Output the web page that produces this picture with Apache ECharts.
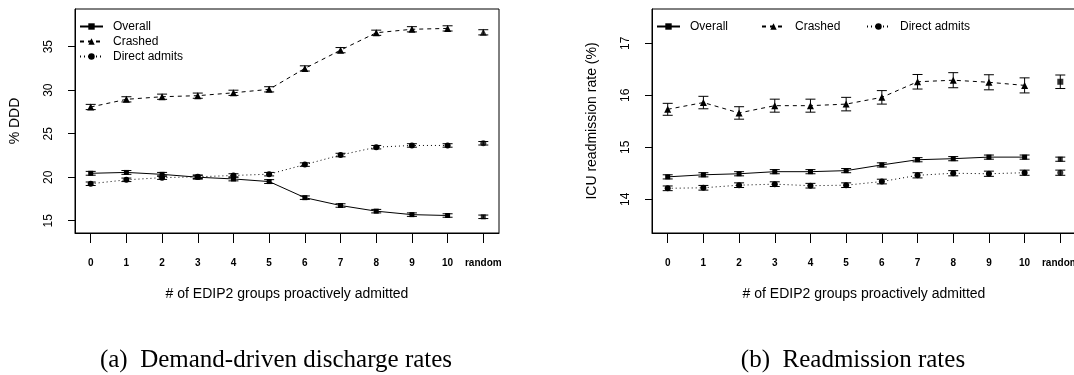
<!DOCTYPE html>
<html>
<head>
<meta charset="utf-8">
<script src="https://cdn.jsdelivr.net/npm/echarts@6/dist/echarts.min.js"></script>
<style>html,body{margin:0;padding:0;background:#fff}#c{width:1074px;height:375px}</style>
</head>
<body>
<div id="c"></div>
<script>
// ---- data ----
var xLabels = ['0','1','2','3','4','5','6','7','8','9','10','random'];
var xPos = [0,1,2,3,4,5,6,7,8,9,10,11];

// (a) Demand-driven discharge rates (% DDD)
var dddOverall   = [20.45, 20.55, 20.33, 20.00, 19.80, 19.50, 17.65, 16.75, 16.10, 15.70, 15.60, 15.45];
var dddCrashed   = [28.07, 28.95, 29.25, 29.37, 29.70, 30.10, 32.50, 34.60, 36.60, 37.00, 37.10, 36.65];
var dddDirect    = [19.25, 19.70, 19.95, 20.05, 20.20, 20.35, 21.45, 22.55, 23.45, 23.65, 23.65, 23.90];
var dddOverallErr = [0.22,0.22,0.22,0.22,0.22,0.22,0.2,0.2,0.2,0.2,0.2,0.2];
var dddCrashedErr = [0.3,0.3,0.3,0.3,0.3,0.3,0.3,0.3,0.3,0.3,0.3,0.3];
var dddDirectErr  = [0.2,0.2,0.2,0.2,0.2,0.2,0.2,0.2,0.2,0.2,0.2,0.2];
var dddTicks = [15,20,25,30,35];

// (b) ICU readmission rate (%)
var readOverall = [14.43, 14.47, 14.49, 14.53, 14.53, 14.55, 14.66, 14.76, 14.78, 14.81, 14.81, 14.77];
var readCrashed = [15.73, 15.86, 15.66, 15.80, 15.80, 15.83, 15.96, 16.26, 16.29, 16.25, 16.19, 16.26];
var readDirect  = [14.21, 14.22, 14.27, 14.29, 14.26, 14.27, 14.34, 14.46, 14.50, 14.49, 14.51, 14.51];
var readOverallErr = [0.04,0.04,0.04,0.04,0.04,0.04,0.04,0.04,0.04,0.04,0.04,0.04];
var readCrashedErr = [0.115,0.12,0.12,0.125,0.125,0.13,0.13,0.14,0.145,0.145,0.145,0.13];
var readDirectErr  = [0.045,0.045,0.045,0.045,0.045,0.045,0.045,0.05,0.05,0.05,0.05,0.05];
var readTicks = [14,15,16,17];

var seriesNames = ['Overall','Crashed','Direct admits'];

// ---- styles ----
var SANS = 'Liberation Sans, Arial, Helvetica, sans-serif';
var SERIF = 'Liberation Serif, Times New Roman, serif';
var sym = {'Overall':'rect','Crashed':'triangle','Direct admits':'circle'};
var symSize = {'Overall':5,'Crashed':7,'Direct admits':6};
var dash = {'Overall':'solid','Crashed':[4,4],'Direct admits':[1,3]};

function linePart(vals){ var d=[]; for(var i=0;i<11;i++) d.push([xPos[i], vals[i]]); return d; }
function randPart(vals){ return [[xPos[11], vals[11]]]; }
function errPart(vals, errs){ var d=[]; for(var i=0;i<vals.length;i++) d.push([xPos[i], vals[i]-errs[i], vals[i]+errs[i]]); return d; }

function errRender(params, api){
  var x = api.value(0), lo = api.value(1), hi = api.value(2);
  var a = api.coord([x, lo]), b = api.coord([x, hi]);
  var hw = 5;
  var st = {stroke:'#000', lineWidth:1};
  return {type:'group', children:[
    {type:'line', shape:{x1:a[0], y1:a[1], x2:b[0], y2:b[1]}, style:st},
    {type:'line', shape:{x1:a[0]-hw, y1:a[1], x2:a[0]+hw, y2:a[1]}, style:st},
    {type:'line', shape:{x1:b[0]-hw, y1:b[1], x2:b[0]+hw, y2:b[1]}, style:st}
  ]};
}

function buildSeries(gi, name, vals, errs, randSymbol){
  var out = [];
  out.push({
    type:'line', name:name, xAxisIndex:gi, yAxisIndex:gi,
    data: linePart(vals), symbol: sym[name], symbolSize: symSize[name],
    itemStyle:{color:'#000'}, lineStyle:{color:'#000', width:1, type:dash[name]},
    animation:false, z:3
  });
  out.push({
    type:'scatter', name:name, xAxisIndex:gi, yAxisIndex:gi,
    data: randPart(vals), symbol: randSymbol || sym[name], symbolSize: randSymbol ? 6 : symSize[name],
    itemStyle:{color:'#000'}, animation:false, z:3
  });
  out.push({
    type:'custom', name:name, xAxisIndex:gi, yAxisIndex:gi,
    data: errPart(vals, errs), renderItem: errRender,
    encode:{x:0, y:[1,2]}, animation:false, z:2, silent:true
  });
  return out;
}

var series = [].concat(
  buildSeries(0,'Overall', dddOverall, dddOverallErr),
  buildSeries(0,'Crashed', dddCrashed, dddCrashedErr),
  buildSeries(0,'Direct admits', dddDirect, dddDirectErr),
  buildSeries(1,'Overall', readOverall, readOverallErr),
  buildSeries(1,'Crashed', readCrashed, readCrashedErr, 'rect'),
  buildSeries(1,'Direct admits', readDirect, readDirectErr)
);

function xAxisOf(gi){
  return {
    type:'value', gridIndex:gi, min:-0.44, max:11.44,
    name:'# of EDIP2 groups proactively admitted', nameLocation:'middle', nameGap:54,
    nameTextStyle:{fontFamily:SANS, fontSize:14, color:'#000'},
    axisLine:{show:true, onZero:false, lineStyle:{color:'#000', width:1}},
    axisTick:{show:true, length:10, customValues:xPos, lineStyle:{color:'#000', width:1}},
    axisLabel:{customValues:xPos, margin:25, fontFamily:SANS, fontSize:10, fontWeight:'bold', color:'#000',
      formatter:function(v){ return xLabels[Math.round(v)]; }},
    splitLine:{show:false}
  };
}
function yAxisOf(gi, min, max, ticks, title){
  return {
    type:'value', gridIndex:gi, min:min, max:max,
    name:title, nameLocation:'middle', nameGap:53,
    nameTextStyle:{fontFamily:SANS, fontSize:14, color:'#000'},
    axisLine:{show:true, onZero:false, lineStyle:{color:'#000', width:1}},
    axisTick:{show:true, length:7, customValues:ticks, lineStyle:{color:'#000', width:1}},
    axisLabel:{customValues:ticks, rotate:90, margin:20, fontFamily:SANS, fontSize:12, color:'#000'},
    splitLine:{show:false}
  };
}

function legend(extra){
  var o = {
    itemWidth:23, itemHeight:8,
    textStyle:{fontFamily:SANS, fontSize:12, color:'#000', padding:[0,0,0,5], lineHeight:15},
    selectedMode:false, padding:0
  };
  for(var k in extra) o[k]=extra[k];
  return o;
}

var option = {
  backgroundColor:'#fff',
  animation:false,
  grid:[
    {left:75, right:575, top:9, bottom:142, show:true, borderColor:'#000', borderWidth:1,
     backgroundColor:'transparent', outerBoundsMode:'none', containLabel:false},
    {left:652, right:-2, top:9, bottom:142, show:true, borderColor:'#000', borderWidth:1,
     backgroundColor:'transparent', outerBoundsMode:'none', containLabel:false}
  ],
  xAxis:[xAxisOf(0), xAxisOf(1)],
  yAxis:[
    yAxisOf(0, 13.59, 39.33, dddTicks, '% DDD'),
    yAxisOf(1, 13.35, 17.66, readTicks, 'ICU readmission rate (%)')
  ],
  legend:[
    legend({orient:'vertical', left:79, top:19, itemGap:0, data:seriesNames}),
    legend({orient:'horizontal', left:656, top:19, data:[seriesNames[0]]}),
    legend({orient:'horizontal', left:761, top:19, data:[seriesNames[1]]}),
    legend({orient:'horizontal', left:866, top:19, data:[seriesNames[2]]})
  ],
  title:[
    {text:'(a)  Demand-driven discharge rates', left:276, top:348, textAlign:'center', padding:0,
     textStyle:{fontFamily:SERIF, fontSize:25, fontWeight:'normal', color:'#000'}},
    {text:'(b)  Readmission rates', left:853, top:348, textAlign:'center', padding:0,
     textStyle:{fontFamily:SERIF, fontSize:25, fontWeight:'normal', color:'#000'}}
  ],
  series:series
};

var chart = echarts.init(document.getElementById('c'), null, {renderer:'canvas'});
chart.setOption(option);
</script>
</body>
</html>
